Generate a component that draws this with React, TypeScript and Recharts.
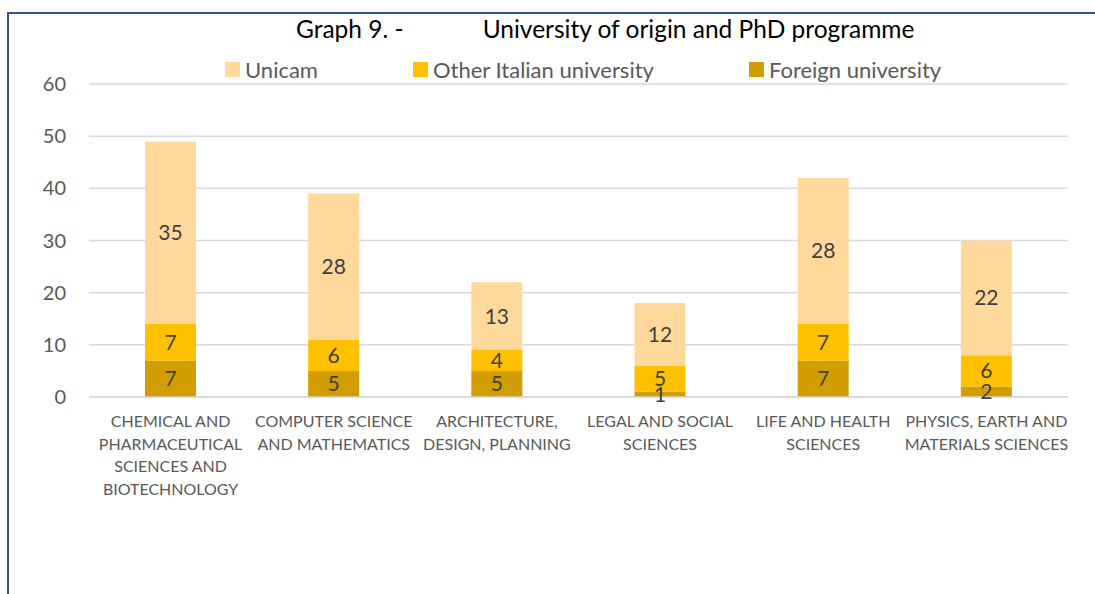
import { BarChart, Bar, XAxis, YAxis, CartesianGrid, LabelList } from "recharts";

// PhD programmes (line breaks as in the original axis)
const programmes = [
  "CHEMICAL AND\nPHARMACEUTICAL\nSCIENCES AND\nBIOTECHNOLOGY",
  "COMPUTER SCIENCE\nAND MATHEMATICS",
  "ARCHITECTURE,\nDESIGN, PLANNING",
  "LEGAL AND SOCIAL\nSCIENCES",
  "LIFE AND HEALTH\nSCIENCES",
  "PHYSICS, EARTH AND\nMATERIALS SCIENCES",
];

const unicam = [35, 28, 13, 12, 28, 22];
const otherItalian = [7, 6, 4, 5, 7, 6];
const foreign = [7, 5, 5, 1, 7, 2];

const yTicks = [0, 10, 20, 30, 40, 50, 60];

const seriesKeys = ["unicam", "otherItalian", "foreign"];
const seriesNames = ["Unicam", "Other Italian university", "Foreign university"];
const seriesColors = ["#FFD99C", "#FFC000", "#D19D00"];

const data = programmes.map((p, i) => ({
  name: p,
  unicam: unicam[i],
  otherItalian: otherItalian[i],
  foreign: foreign[i],
}));

const FONT = "Lato, 'Open Sans', sans-serif";

function CategoryTick(props: any) {
  const { x, y, payload } = props;
  const lines = String(payload.value).split("\n");
  return (
    <text x={x} y={y + 22} textAnchor="middle" fill="#595959" fontSize={16} fontFamily={FONT}>
      {lines.map((l: string, i: number) => (
        <tspan key={i} x={x} dy={i === 0 ? 0 : 22.7}>
          {l}
        </tspan>
      ))}
    </text>
  );
}

export default function App() {
  // stack bottom to top: foreign, other italian, unicam
  const stackOrder = [2, 1, 0];
  return (
    <div
      style={{
        position: "absolute",
        left: 7,
        top: 12,
        width: 1088,
        height: 582,
        boxSizing: "border-box",
        borderTop: "2px solid #2F5597",
        borderLeft: "2px solid #2F5597",
        background: "#fff",
        fontFamily: FONT,
      }}
    >
      <div
        style={{
          position: "absolute",
          left: 287,
          top: 0,
          fontSize: 24.5,
          color: "#000",
          whiteSpace: "nowrap",
        }}
      >
        <span>Graph 9. -</span>
        <span style={{ marginLeft: 79 }}>University of origin and PhD programme</span>
      </div>
      <div
        style={{
          position: "absolute",
          left: 216,
          top: 42,
          display: "flex",
          gap: 95,
          fontSize: 22,
          color: "#595959",
          whiteSpace: "nowrap",
        }}
      >
        {seriesNames.map((n, i) => (
          <div key={n} style={{ display: "flex", alignItems: "center" }}>
            <span
              style={{
                display: "inline-block",
                width: 15,
                height: 15,
                background: seriesColors[i],
                marginRight: 5,
              }}
            />
            <span>{n}</span>
          </div>
        ))}
      </div>
      <div style={{ position: "absolute", left: 0, top: 0 }}>
        <BarChart
          width={1086}
          height={580}
          data={data}
          margin={{ top: 70, right: 27, left: 0, bottom: 107 }}
        >
          <CartesianGrid vertical={false} stroke="#D9D9D9" strokeWidth={1.5} />
          <XAxis
            dataKey="name"
            interval={0}
            height={90}
            tickLine={false}
            axisLine={{ stroke: "#D9D9D9", strokeWidth: 1.5 }}
            tick={<CategoryTick />}
          />
          <YAxis
            domain={[0, 60]}
            ticks={yTicks}
            width={80}
            tickLine={false}
            axisLine={false}
            tickMargin={17}
            tick={{ fill: "#595959", fontSize: 20, fontFamily: FONT }}
          />
          {stackOrder.map((i) => (
            <Bar
              key={seriesKeys[i]}
              dataKey={seriesKeys[i]}
              name={seriesNames[i]}
              stackId="a"
              fill={seriesColors[i]}
              barSize={51}
              isAnimationActive={false}
            >
              <LabelList
                dataKey={seriesKeys[i]}
                position="center"
                fill="#404040"
                fontSize={21}
                fontFamily={FONT}
              />
            </Bar>
          ))}
        </BarChart>
      </div>
    </div>
  );
}
